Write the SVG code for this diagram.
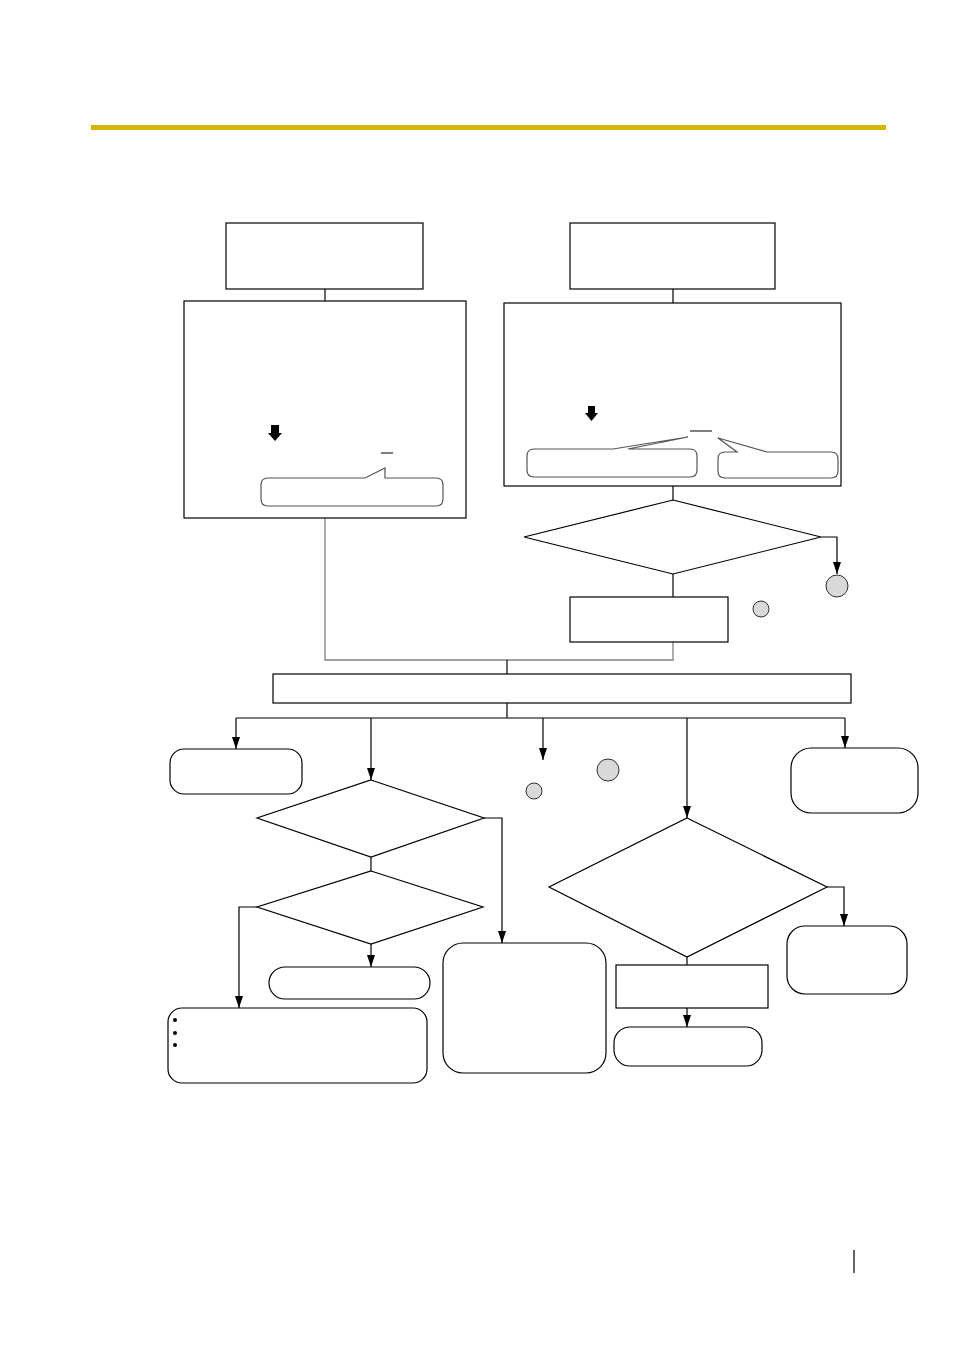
<svg xmlns="http://www.w3.org/2000/svg" width="954" height="1350" viewBox="0 0 954 1350">
<style>
.box{fill:#fff;stroke:#000;stroke-width:1.2}
.rbox{fill:#fff;stroke:#000;stroke-width:1.2}
.call{fill:#fff;stroke:#555;stroke-width:1.2}
.ln{fill:none;stroke:#000;stroke-width:1.2}
.gl{fill:none;stroke:#808080;stroke-width:1.3}
.arr{fill:none;stroke:#000;stroke-width:1.2;marker-end:url(#ah)}
.dot{fill:#d9d9d9;stroke:#000;stroke-width:0.8}
</style>
<defs>
<marker id="ah" viewBox="0 0 12 8" refX="12" refY="4" markerWidth="12" markerHeight="8" markerUnits="userSpaceOnUse" orient="auto">
<path d="M0,0 L12,4 L0,8 Z" fill="#000"/>
</marker>
</defs>
<rect x="91" y="125" width="795" height="5" fill="#d6b400"/>
<line x1="854" y1="1250" x2="854" y2="1273" stroke="#000" stroke-width="1.2"/>

<g id="connectors">
<line class="ln" x1="325" y1="289" x2="325" y2="301"/>
<line class="ln" x1="673" y1="289" x2="673" y2="303"/>
<line class="ln" x1="673" y1="486" x2="673" y2="500"/>
<polyline class="arr" points="821,537 837,537 837,574"/>
<line class="ln" x1="673" y1="574" x2="673" y2="597"/>
<polyline class="gl" points="325,518 325,660 673,660 673,642"/>
<line class="ln" x1="507" y1="660" x2="507" y2="674"/>
<line class="ln" x1="507" y1="703" x2="507" y2="718"/>
<line class="ln" x1="236" y1="718" x2="845" y2="718"/>
<line class="arr" x1="236" y1="718" x2="236" y2="749"/>
<line class="arr" x1="371" y1="718" x2="371" y2="780"/>
<line class="arr" x1="543" y1="718" x2="543" y2="760"/>
<line class="arr" x1="687" y1="718" x2="687" y2="818"/>
<line class="arr" x1="845" y1="718" x2="845" y2="748"/>
<polyline class="arr" points="484,818 502,818 502,943"/>
<line class="ln" x1="371" y1="857" x2="371" y2="871"/>
<polyline class="arr" points="257,907 239,907 239,1008"/>
<line class="arr" x1="371" y1="944" x2="371" y2="967"/>
<polyline class="arr" points="827,887 844,887 844,926"/>
<line class="ln" x1="687" y1="957" x2="687" y2="965"/>
<line class="arr" x1="687" y1="1008" x2="687" y2="1027"/>
</g>

<g id="n_left_top"><rect class="box" x="226" y="223" width="197" height="66"/></g>
<g id="n_left_main">
<rect class="box" x="184" y="301" width="282" height="217"/>
<path d="M271,425 H279 V433 H282 L275,441 L268,433 H271 Z" fill="#000"/>
<line x1="381" y1="453" x2="393" y2="453" stroke="#000" stroke-width="1"/>
<path class="call" d="M268,478 H365 L385,468 V478 H436 Q443,478 443,485 V499 Q443,506 436,506 H268 Q261,506 261,499 V485 Q261,478 268,478 Z"/>
</g>

<g id="n_right_top"><rect class="box" x="570" y="223" width="205" height="66"/></g>
<g id="n_right_main">
<rect class="box" x="504" y="303" width="337" height="183"/>
<path d="M588,406 H595 V413 H598 L591.5,421 L585,413 H588 Z" fill="#000"/>
<line x1="690" y1="431" x2="712" y2="431" stroke="#000" stroke-width="1"/>
<path class="call" d="M534,449 H613 L688,437 L628,449 H690 Q697,449 697,456 V470 Q697,477 690,477 H534 Q527,477 527,470 V456 Q527,449 534,449 Z"/>
<path class="call" d="M725,452 H737 L718,438 L767,452 H831 Q838,452 838,459 V471 Q838,478 831,478 H725 Q718,478 718,471 V459 Q718,452 725,452 Z"/>
</g>

<g id="n_dec1"><polygon class="box" points="673,500 821,537 673,574 524,537"/></g>
<g id="n_circle1"><circle class="dot" cx="837" cy="586" r="11"/></g>
<g id="n_box_mid"><rect class="box" x="570" y="597" width="158" height="45"/></g>
<g id="n_circle2"><circle class="dot" cx="761" cy="609" r="8"/></g>
<g id="n_wide"><rect class="box" x="273" y="674" width="578" height="29"/></g>

<g id="n_rA"><rect class="rbox" x="170" y="749" width="132" height="45" rx="14"/></g>
<g id="n_rRight"><rect class="rbox" x="791" y="748" width="127" height="65" rx="20"/></g>
<g id="n_circle3"><circle class="dot" cx="608" cy="770" r="11"/></g>
<g id="n_circle4"><circle class="dot" cx="534" cy="791" r="8"/></g>

<g id="n_dec2"><polygon class="box" points="371,780 484,818 371,857 257,818"/></g>
<g id="n_dec3"><polygon class="box" points="371,871 483,907 371,944 257,907"/></g>
<g id="n_pill"><rect class="rbox" x="269" y="967" width="161" height="32" rx="16"/></g>
<g id="n_list">
<rect class="rbox" x="168" y="1008" width="259" height="75" rx="14"/>
<circle cx="175" cy="1020" r="2" fill="#000"/>
<circle cx="175" cy="1033" r="2" fill="#000"/>
<circle cx="175" cy="1045" r="2" fill="#000"/>
</g>
<g id="n_tall"><rect class="rbox" x="443" y="943" width="163" height="130" rx="20"/></g>

<g id="n_dec4"><polygon class="box" points="687,818 827,887 687,957 549,887"/></g>
<g id="n_rR2"><rect class="rbox" x="787" y="926" width="120" height="68" rx="18"/></g>
<g id="n_box_low"><rect class="box" x="616" y="965" width="152" height="43"/></g>
<g id="n_rLow"><rect class="rbox" x="614" y="1027" width="148" height="39" rx="16"/></g>
</svg>
